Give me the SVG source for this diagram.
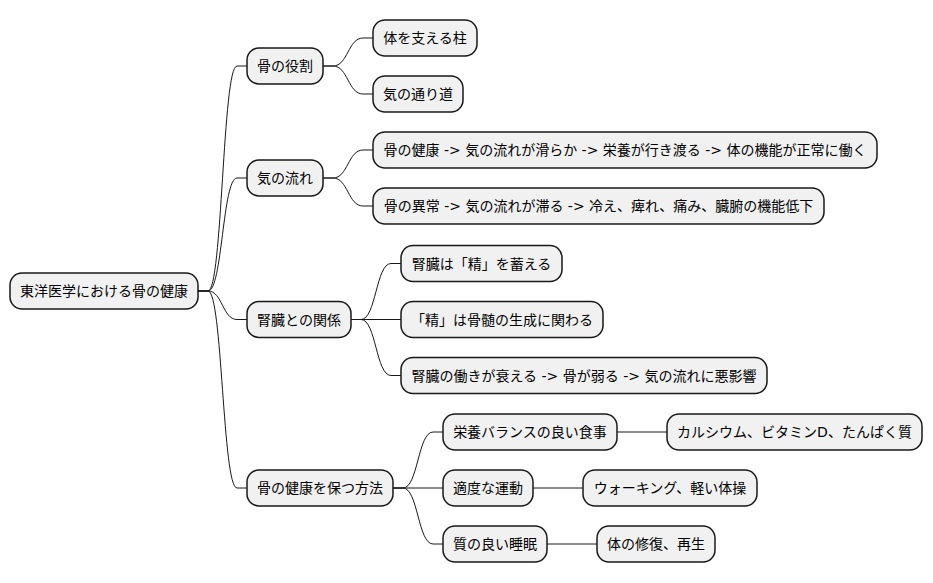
<svg xmlns="http://www.w3.org/2000/svg" width="933" height="583" viewBox="0 0 933 583">
<style>
.node rect{fill:#F1F1F1;stroke:#181818;stroke-width:1.5}
.node text{font-family:"DejaVu Sans","Noto Sans CJK JP",sans-serif;font-size:14px;fill:#000;text-anchor:middle}
#connectors path{fill:none;stroke:#181818;stroke-width:1}
</style>
<rect width="933" height="583" fill="#FFFFFF"/>
<g id="connectors">
<path d="M198,291 H208 C222.5,291 222.5,66 237,66 H247"/>
<path d="M198,291 H208 C222.5,291 222.5,178 237,178 H247"/>
<path d="M198,291 H208 C222.5,291 222.5,319.5 237,319.5 H247"/>
<path d="M198,291 H208 C222.5,291 222.5,488 237,488 H247"/>
<path d="M323,66 H333 C348,66 348,38 363,38 H373"/>
<path d="M323,66 H333 C348,66 348,94 363,94 H373"/>
<path d="M323,178 H333 C348,178 348,150 363,150 H373"/>
<path d="M323,178 H333 C348,178 348,206 363,206 H373"/>
<path d="M351,319.5 H361 C376,319.5 376,263.5 391,263.5 H401"/>
<path d="M351,319.5 H401"/>
<path d="M351,319.5 H361 C376,319.5 376,375.5 391,375.5 H401"/>
<path d="M393,488 H403 C418,488 418,432 433,432 H443"/>
<path d="M393,488 H443"/>
<path d="M393,488 H403 C418,488 418,544 433,544 H443"/>
<path d="M617,432 H667"/>
<path d="M533,488 H583"/>
<path d="M547,544 H597"/>
</g>
<g id="root" class="node"><rect x="10" y="273" width="188" height="36" rx="12"/><text x="104" y="296">東洋医学における骨の健康</text></g>
<g id="n1" class="node"><rect x="247" y="48" width="76" height="36" rx="12"/><text x="285" y="71">骨の役割</text></g>
<g id="n1a" class="node"><rect x="373" y="20" width="104" height="36" rx="12"/><text x="425" y="43">体を支える柱</text></g>
<g id="n1b" class="node"><rect x="373" y="76" width="90" height="36" rx="12"/><text x="418" y="99">気の通り道</text></g>
<g id="n2" class="node"><rect x="247" y="160" width="76" height="36" rx="12"/><text x="285" y="183">気の流れ</text></g>
<g id="n2a" class="node"><rect x="373" y="132" width="504" height="36" rx="12"/><text x="625" y="155">骨の健康 -&gt; 気の流れが滑らか -&gt; 栄養が行き渡る -&gt; 体の機能が正常に働く</text></g>
<g id="n2b" class="node"><rect x="373" y="188" width="451" height="36" rx="12"/><text x="598.5" y="211">骨の異常 -&gt; 気の流れが滞る -&gt; 冷え、痺れ、痛み、臓腑の機能低下</text></g>
<g id="n3" class="node"><rect x="247" y="301.5" width="104" height="36" rx="12"/><text x="299" y="324.5">腎臓との関係</text></g>
<g id="n3a" class="node"><rect x="401" y="245.5" width="161" height="36" rx="12"/><text x="481.5" y="268.5">腎臓は「精」を蓄える</text></g>
<g id="n3b" class="node"><rect x="401" y="301.5" width="202" height="36" rx="12"/><text x="502" y="324.5">「精」は骨髄の生成に関わる</text></g>
<g id="n3c" class="node"><rect x="401" y="357.5" width="366" height="36" rx="12"/><text x="584" y="380.5">腎臓の働きが衰える -&gt; 骨が弱る -&gt; 気の流れに悪影響</text></g>
<g id="n4" class="node"><rect x="247" y="470" width="146" height="36" rx="12"/><text x="320" y="493">骨の健康を保つ方法</text></g>
<g id="n4a" class="node"><rect x="443" y="414" width="174" height="36" rx="12"/><text x="530" y="437">栄養バランスの良い食事</text></g>
<g id="n4a1" class="node"><rect x="667" y="414" width="255" height="36" rx="12"/><text x="794.5" y="437">カルシウム、ビタミンD、たんぱく質</text></g>
<g id="n4b" class="node"><rect x="443" y="470" width="90" height="36" rx="12"/><text x="488" y="493">適度な運動</text></g>
<g id="n4b1" class="node"><rect x="583" y="470" width="174" height="36" rx="12"/><text x="670" y="493">ウォーキング、軽い体操</text></g>
<g id="n4c" class="node"><rect x="443" y="526" width="104" height="36" rx="12"/><text x="495" y="549">質の良い睡眠</text></g>
<g id="n4c1" class="node"><rect x="597" y="526" width="118" height="36" rx="12"/><text x="656" y="549">体の修復、再生</text></g>
</svg>
